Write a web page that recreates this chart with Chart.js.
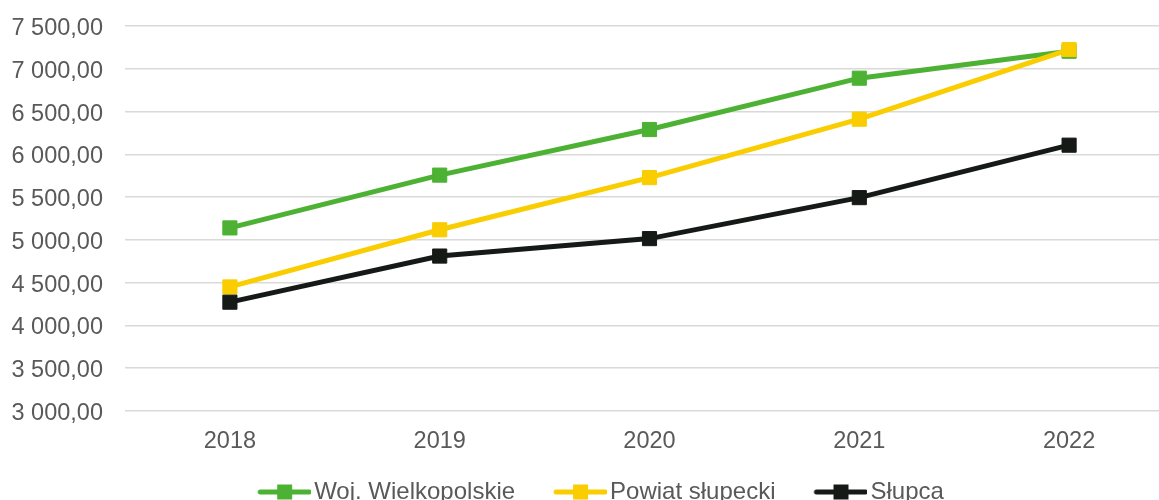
<!DOCTYPE html>
<html>
<head>
<meta charset="utf-8">
<script src="https://cdn.jsdelivr.net/npm/chart.js@4"></script>
<style>
  html, body { margin: 0; padding: 0; overflow: hidden; background: #ffffff; }
  #wrap { position: absolute; left: 0; top: 0; width: 1174px; height: 514px; }
</style>
</head>
<body>
<div id="wrap"><canvas id="c"></canvas></div>
<script>
const years = ['2018', '2019', '2020', '2021', '2022'];
const wojValues = [5140, 5757, 6290, 6890, 7205];
const powiatValues = [4450, 5118, 5728, 6411, 7225];
const slupcaValues = [4272, 4811, 5015, 5494, 6107];
const seriesNames = ['Woj. Wielkopolskie', 'Powiat słupecki', 'Słupca'];
const seriesColors = ['#4DB234', '#F9CD00', '#151A17'];

const axisMin = 3000, axisMax = 7500, axisStep = 500;

function formatPl(v) {
  const parts = v.toFixed(2).split('.');
  const intPart = parts[0].replace(/\B(?=(\d{3})+(?!\d))/g, ' ');
  return intPart + ',' + parts[1];
}

function legendImage(color) {
  const c = document.createElement('canvas');
  c.width = 62; c.height = 16;
  const g = c.getContext('2d');
  g.strokeStyle = color;
  g.lineWidth = 5;
  g.lineCap = 'round';
  g.beginPath();
  g.moveTo(11, 8); g.lineTo(60, 8);
  g.stroke();
  g.fillStyle = color;
  g.fillRect(35.5 - 7.5, 0.5, 15, 15);
  return c;
}
const legendImgs = seriesColors.map(legendImage);

const valuesList = [wojValues, powiatValues, slupcaValues];
const datasets = valuesList.map((vals, i) => ({
  label: seriesNames[i],
  data: vals,
  borderColor: seriesColors[i],
  backgroundColor: seriesColors[i],
  pointBackgroundColor: seriesColors[i],
  pointBorderColor: seriesColors[i],
  borderWidth: 5,
  pointStyle: 'rect',
  pointRadius: 10,
  pointBorderWidth: 1,
  tension: 0,
  order: 3 - i
}));

const adjustBoxes = {
  id: 'adjustBoxes',
  afterLayout(chart) {
    const lg = chart.legend;
    if (lg) { lg.left += 14; lg.right += 14; }
    const xs = chart.scales.x;
    if (xs) { xs.bottom += 25; }
  }
};

new Chart(document.getElementById('c'), {
  type: 'line',
  data: { labels: years, datasets },
  options: {
    responsive: true,
    maintainAspectRatio: false,
    animation: false,
    layout: { autoPadding: false, padding: { top: 26, left: 0, right: 0, bottom: 0 } },
    plugins: {
      tooltip: { enabled: false },
      legend: {
        position: 'bottom',
        labels: {
          usePointStyle: true,
          pointStyleWidth: 44,
          padding: 39,
          color: '#595959',
          font: { family: '"Liberation Sans", Arial, sans-serif', size: 24 },
          generateLabels(chart) {
            return chart.data.datasets.map((ds, i) => ({
              text: ds.label,
              pointStyle: legendImgs[i],
              fillStyle: ds.borderColor,
              strokeStyle: ds.borderColor,
              lineWidth: 0,
              hidden: false,
              datasetIndex: i,
              fontColor: '#595959'
            }));
          }
        }
      }
    },
    scales: {
      x: {
        offset: true,
        grid: { display: false, drawTicks: false },
        border: { display: false },
        ticks: {
          padding: 16,
          color: '#595959',
          font: { family: '"Liberation Sans", Arial, sans-serif', size: 23.5 }
        },
        afterFit(scale) { scale.height = 30; scale.paddingLeft = 0; scale.paddingRight = 0; }
      },
      y: {
        min: axisMin,
        max: axisMax,
        grid: { color: '#D9D9D9', lineWidth: 1.5, drawTicks: false },
        border: { display: false },
        ticks: {
          stepSize: axisStep,
          padding: 22,
          labelOffset: 2.5,
          color: '#595959',
          font: { family: '"Liberation Sans", Arial, sans-serif', size: 23.5 },
          callback: (v) => formatPl(v)
        },
        afterFit(scale) { scale.width = 125; scale.paddingTop = 0; scale.paddingBottom = 0; }
      }
    }
  },
  plugins: [adjustBoxes]
});
</script>
</body>
</html>
